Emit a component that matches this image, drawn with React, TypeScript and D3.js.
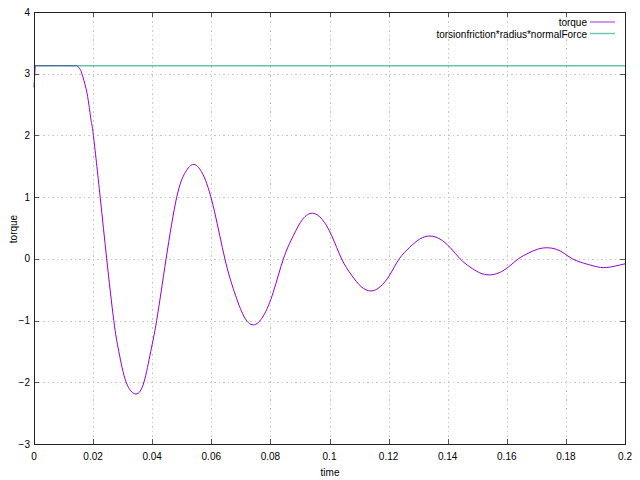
import React from "react";
import * as d3 from "d3";

const timeValues = [
  0, 0.0004, 0.005, 0.01, 0.014, 0.0147, 0.0155, 0.0162, 0.0176, 0.0186, 0.0194, 0.0201, 0.0224,
  0.0246, 0.027, 0.0287, 0.0312, 0.0345, 0.0372, 0.0395, 0.0415, 0.0447, 0.0483, 0.0512, 0.0541,
  0.0576, 0.0611, 0.0646, 0.0678, 0.071, 0.0742, 0.0776, 0.081, 0.0844, 0.0877, 0.0909, 0.0942,
  0.0975, 0.1008, 0.1041, 0.1074, 0.1107, 0.114, 0.1172, 0.1204, 0.1236, 0.1271, 0.1305, 0.134,
  0.1374, 0.1408, 0.1442, 0.1475, 0.1508, 0.1541, 0.1574, 0.1606, 0.1639, 0.1672, 0.1704, 0.1737,
  0.1767, 0.1794, 0.1822, 0.186, 0.1899, 0.1938, 0.2,
];
const torqueValues = [
  2.78, 3.13, 3.13, 3.13, 3.13, 3.125, 3.08, 3.0, 2.76, 2.49, 2.22, 2.0, 1.0,
  0.0, -1.0, -1.5, -2.0, -2.19, -2.0, -1.5, -1.0, 0.0, 1.0, 1.4, 1.53,
  1.325, 0.765, 0.0, -0.535, -0.927, -1.07, -0.927, -0.535, 0.0, 0.37, 0.641, 0.74,
  0.641, 0.37, 0.0, -0.26, -0.45, -0.52, -0.45, -0.26, 0.0, 0.185, 0.32, 0.37,
  0.32, 0.185, 0.0, -0.13, -0.225, -0.26, -0.225, -0.13, 0.0, 0.09, 0.156, 0.18,
  0.156, 0.09, 0.0, -0.07, -0.121, -0.14, -0.08,
];
const frictionLimit = 3.13;

const xTicks = [0, 0.02, 0.04, 0.06, 0.08, 0.1, 0.12, 0.14, 0.16, 0.18, 0.2];
const yTicks = [-3, -2, -1, 0, 1, 2, 3, 4];
const seriesNames = ["torque", "torsionfriction*radius*normalForce"];
const seriesColors = ["#9400d3", "#009e73"];

const FONT = "'Liberation Sans', Arial, sans-serif";

export default function App() {
  const left = 34, right = 625, top = 12, bottom = 444;
  const x = d3.scaleLinear().domain([0, 0.2]).range([left, right]);
  const y = d3.scaleLinear().domain([-3, 4]).range([bottom, top]);

  const data = timeValues.map((t, i) => ({ t, v: torqueValues[i] }));
  const smooth = d3
    .line<{ t: number; v: number }>()
    .x((d) => x(d.t))
    .y((d) => y(d.v))
    .curve(d3.curveNatural);
  const straight = d3
    .line<{ t: number; v: number }>()
    .x((d) => x(d.t))
    .y((d) => y(d.v));

  const fmtX = (v: number) => (v === 0 ? "0" : String(+v.toFixed(2)));
  const fmtY = (v: number) => (v < 0 ? "\u2212" + Math.abs(v) : String(v));
  const tickLen = 5;

  return (
    <svg
      width={640}
      height={480}
      style={{ position: "absolute", left: 0, top: 0, background: "#fff" }}
      fontFamily={FONT}
    >
      <rect x={0} y={0} width={640} height={480} fill="#fff" />
      {/* grid */}
      <g stroke="#c8c8c8" strokeWidth={1} strokeDasharray="1.5,3" shapeRendering="crispEdges">
        {xTicks.slice(1, -1).map((t) => (
          <line key={"gx" + t} x1={Math.round(x(t)) + 0.5} x2={Math.round(x(t)) + 0.5} y1={top} y2={bottom} />
        ))}
        {yTicks.slice(1, -1).map((t) => (
          <line key={"gy" + t} x1={left} x2={right} y1={Math.round(y(t)) + 0.5} y2={Math.round(y(t)) + 0.5} />
        ))}
      </g>
      {/* ticks */}
      <g stroke="#555" strokeWidth={1} shapeRendering="crispEdges">
        {xTicks.map((t) => (
          <g key={"tx" + t}>
            <line x1={Math.round(x(t)) + 0.5} x2={Math.round(x(t)) + 0.5} y1={bottom} y2={bottom - tickLen} />
            <line x1={Math.round(x(t)) + 0.5} x2={Math.round(x(t)) + 0.5} y1={top} y2={top + tickLen} />
          </g>
        ))}
        {yTicks.map((t) => (
          <g key={"ty" + t}>
            <line x1={left} x2={left + tickLen} y1={Math.round(y(t)) + 0.5} y2={Math.round(y(t)) + 0.5} />
            <line x1={right} x2={right - tickLen} y1={Math.round(y(t)) + 0.5} y2={Math.round(y(t)) + 0.5} />
          </g>
        ))}
      </g>
      {/* series */}
      <path d={straight(data.slice(0, 2)) || ""} fill="none" stroke={seriesColors[0]} strokeWidth={1} />
      <path d={smooth(data.slice(1)) || ""} fill="none" stroke={seriesColors[0]} strokeWidth={1} />
      <line
        x1={x(0)}
        x2={x(0.2)}
        y1={y(frictionLimit)}
        y2={y(frictionLimit)}
        stroke={seriesColors[1]}
        strokeWidth={1.4}
        strokeOpacity={0.6}
      />
      {/* border */}
      <rect
        x={left + 0.5}
        y={top + 0.5}
        width={right - left}
        height={bottom - top}
        fill="none"
        stroke="#222"
        strokeWidth={1.5}
        shapeRendering="crispEdges"
      />
      {/* tick labels */}
      <g fontSize={10} fill="#000">
        {xTicks.map((t) => (
          <text key={"lx" + t} x={x(t)} y={460} textAnchor="middle">
            {fmtX(t)}
          </text>
        ))}
        {yTicks.map((t) => (
          <text key={"ly" + t} x={30} y={y(t) + 3.5} textAnchor="end">
            {fmtY(t)}
          </text>
        ))}
      </g>
      {/* axis titles */}
      <text x={330} y={476} fontSize={10} textAnchor="middle">
        time
      </text>
      <text x={0} y={0} fontSize={10} textAnchor="middle" transform={`translate(17,229) rotate(-90)`}>
        torque
      </text>
      {/* legend */}
      <g fontSize={10}>
        {seriesNames.map((name, i) => (
          <g key={name}>
            <text x={587} y={26 + i * 11.5} textAnchor="end">
              {name}
            </text>
            <line
              x1={590}
              x2={615}
              y1={22 + i * 11.5}
              y2={22 + i * 11.5}
              stroke={seriesColors[i]}
              strokeWidth={1.4}
              strokeOpacity={0.6}
            />
          </g>
        ))}
      </g>
    </svg>
  );
}
